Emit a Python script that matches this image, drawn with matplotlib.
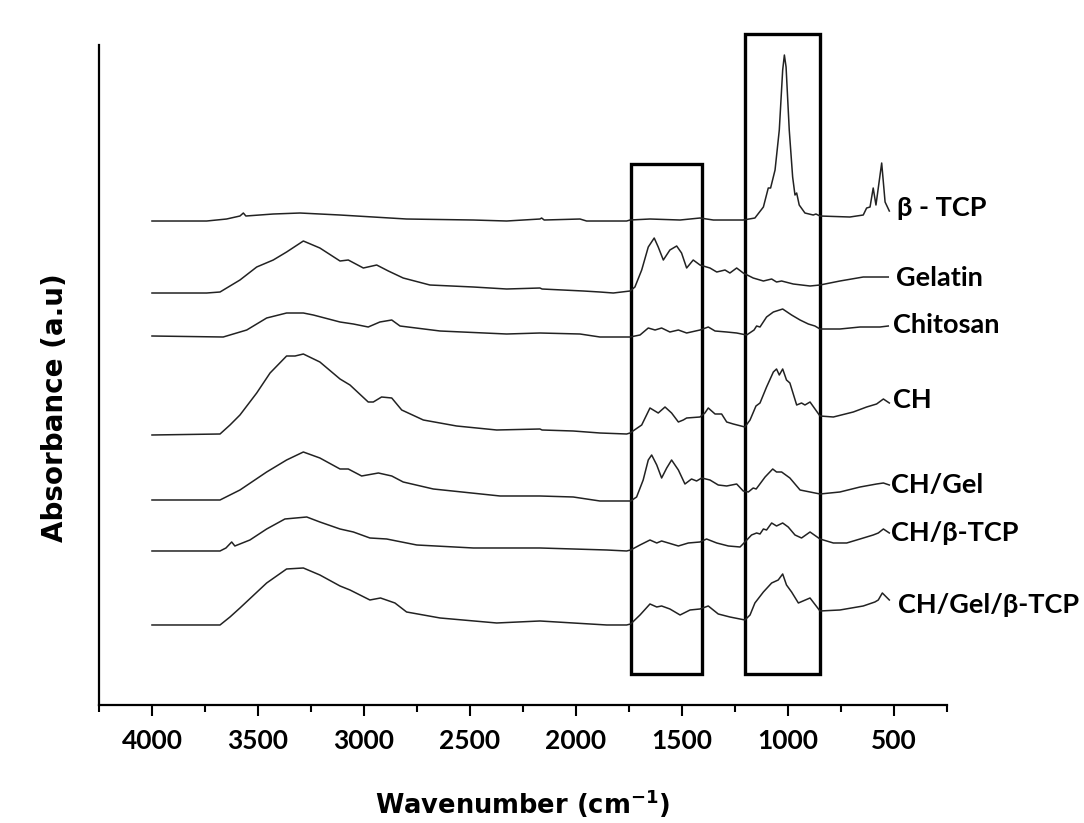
import numpy as np
import matplotlib.pyplot as plt
from matplotlib.patches import Rectangle

# FTIR spectra, stacked (absorbance in arbitrary offset units)
tcp_wn = [4000, 3742, 3648, 3585, 3569, 3557, 3428, 3302, 3113, 2799, 2484, 2327, 2170, 2162, 2150,
          1981, 1950, 1887, 1761, 1745, 1651, 1509, 1415, 1352, 1211, 1156, 1116, 1093, 1082, 1061,
          1041, 1025, 1017, 1009, 994, 978, 967, 959, 947, 920, 881, 868, 849, 708, 645, 629, 613,
          598, 585, 558, 542, 522]
tcp_ab = [484, 484, 486, 489, 492, 489, 491, 492, 490, 486, 485, 484, 486, 487, 485,
          486, 484, 484, 484, 485, 486, 485, 487, 485, 485, 487, 498, 517, 517, 535,
          575, 635, 650, 638, 575, 528, 510, 512, 500, 492, 490, 491, 489, 488, 490, 497, 498,
          517, 500, 542, 503, 494]

gel_wn = [4000, 3742, 3679, 3585, 3506, 3428, 3365, 3286, 3208, 3113, 3074, 3003, 2940, 2885, 2815,
          2689, 2484, 2327, 2170, 2160, 1965, 1887, 1824, 1745, 1722, 1690, 1659, 1631, 1612, 1588,
          1557, 1525, 1502, 1478, 1447, 1415, 1368, 1336, 1297, 1274, 1242, 1211, 1164, 1116, 1077,
          1054, 1030, 975, 896, 849, 755, 645, 527]
gel_ab = [412, 412, 413, 425, 438, 445, 453, 464, 457, 444, 445, 437, 440, 434, 427,
          420, 418, 416, 417, 416, 414, 413, 412, 414, 418, 435, 458, 467, 458, 445,
          455, 459, 452, 437, 445, 440, 437, 433, 435, 432, 437, 432, 427, 424, 426,
          423, 424, 421, 419, 420, 424, 428, 428]

chi_wn = [4000, 3664, 3553, 3459, 3365, 3286, 3239, 3113, 3050, 2980, 2925, 2869, 2830, 2641, 2327,
          2170, 1981, 1887, 1761, 1745, 1698, 1659, 1627, 1596, 1557, 1517, 1478, 1415, 1376, 1344,
          1289, 1242, 1195, 1160, 1148, 1132, 1101, 1069, 1025, 983, 943, 904, 873, 849, 755, 660,
          566, 527]
chi_ab = [369, 368, 375, 387, 392, 392, 390, 383, 381, 378, 383, 385, 379, 374, 371,
          372, 371, 368, 368, 368, 370, 377, 375, 377, 373, 375, 372, 375, 378, 374,
          373, 372, 370, 375, 379, 378, 388, 393, 396, 390, 385, 381, 379, 376, 376, 378,
          378, 379]

ch_wn = [4000, 3679, 3632, 3585, 3506, 3443, 3365, 3325, 3286, 3208, 3113, 3066, 2980, 2956, 2917,
         2869, 2822, 2720, 2563, 2374, 2170, 2160, 2013, 1887, 1761, 1745, 1690, 1651, 1612, 1580,
         1549, 1517, 1494, 1478, 1415, 1392, 1376, 1344, 1313, 1289, 1258, 1203, 1179, 1151, 1132,
         1101, 1069, 1054, 1041, 1025, 1007, 991, 959, 936, 920, 896, 849, 786, 692, 629, 582, 550, 522]
ch_ab = [270, 271, 280, 290, 312, 332, 349, 349, 351, 343, 326, 320, 303, 303, 308,
         307, 295, 285, 279, 275, 276, 275, 274, 272, 271, 272, 280, 297, 292, 298,
         292, 283, 285, 287, 288, 292, 297, 291, 291, 283, 281, 278, 285, 299, 302,
         318, 333, 336, 330, 336, 325, 322, 300, 302, 300, 303, 289, 288, 293, 298, 301, 306, 302]

chgel_wn = [4000, 3679, 3585, 3459, 3365, 3286, 3208, 3113, 3074, 3011, 2932, 2869, 2815, 2673, 2358,
            2170, 2013, 1887, 1761, 1742, 1714, 1683, 1659, 1643, 1619, 1596, 1572, 1549, 1517, 1486,
            1455, 1431, 1407, 1368, 1329, 1289, 1242, 1211, 1187, 1164, 1150, 1108, 1072, 1054, 1030,
            991, 943, 896, 849, 755, 660, 582, 550, 522]
chgel_ab = [205, 205, 215, 233, 245, 253, 247, 236, 236, 229, 232, 229, 223, 216, 209,
            209, 208, 204, 204, 204, 208, 225, 245, 250, 240, 227, 237, 245, 235, 221,
            226, 224, 227, 225, 220, 219, 221, 214, 213, 217, 216, 228, 236, 233, 233,
            227, 215, 213, 211, 213, 218, 221, 222, 220]

chtcp_wn = [4000, 3679, 3651, 3624, 3609, 3538, 3459, 3373, 3270, 3208, 3113, 3050, 2972, 2893, 2846,
            2751, 2484, 2170, 1855, 1761, 1742, 1698, 1651, 1619, 1596, 1564, 1517, 1470, 1415, 1384,
            1336, 1281, 1226, 1203, 1172, 1148, 1132, 1116, 1101, 1077, 1054, 1025, 999, 967, 936,
            896, 849, 786, 723, 660, 598, 574, 550, 522]
chtcp_ab = [154, 154, 157, 163, 159, 165, 176, 186, 188, 183, 176, 173, 167, 166, 164,
            160, 157, 157, 155, 154, 155, 160, 165, 162, 164, 162, 159, 162, 163, 166,
            162, 159, 158, 163, 170, 172, 171, 176, 175, 182, 179, 182, 178, 170, 167,
            173, 166, 162, 162, 166, 170, 172, 176, 172]

all_wn = [4000, 3679, 3632, 3585, 3459, 3365, 3286, 3208, 3113, 3066, 2972, 2922, 2854, 2799, 2641,
          2374, 2170, 2013, 1855, 1761, 1742, 1698, 1651, 1619, 1596, 1557, 1509, 1462, 1415, 1376,
          1329, 1274, 1203, 1179, 1156, 1116, 1077, 1046, 1025, 1007, 983, 951, 896, 849, 755, 645,
          590, 574, 555, 522]
all_ab = [80, 80, 88, 97, 122, 136, 137, 130, 119, 115, 105, 107, 102, 93, 87,
          82, 84, 82, 80, 80, 81, 90, 101, 98, 99, 96, 90, 95, 96, 99,
          91, 88, 85, 90, 102, 113, 122, 125, 131, 120, 113, 102, 107, 94, 95, 99,
          103, 105, 112, 105]

spectra = [(tcp_wn, tcp_ab), (gel_wn, gel_ab), (chi_wn, chi_ab), (ch_wn, ch_ab),
           (chgel_wn, chgel_ab), (chtcp_wn, chtcp_ab), (all_wn, all_ab)]
names = [u"\u03b2 - TCP", "Gelatin", "Chitosan", "CH", "CH/Gel", u"CH/\u03b2-TCP", u"CH/Gel/\u03b2-TCP"]
label_x = [487, 490, 505, 505, 516, 516, 481]
label_y = [497, 427, 380, 305, 220, 172, 100]

# highlighted regions (wavenumber ranges)
box_ranges = [(1742, 1407, 541), (1203, 849, 671)]

fonts = ['Lato', 'DejaVu Sans']

fig = plt.figure(figsize=(10.84, 8.23), dpi=100)
ax = fig.add_axes([0.0913, 0.1434, 0.7823, 0.8019])

for (wn, ab) in spectra:
    ax.plot(wn, ab, color='#222222', lw=1.1)

for name, lx, ly in zip(names, label_x, label_y):
    ax.text(lx, ly, name, ha='left', va='center', fontsize=19.5, fontweight='bold', family=fonts)

for (x0, x1, top) in box_ranges:
    ax.add_patch(Rectangle((x1, 31), x0 - x1, top - 31, fill=False, lw=2.4,
                           edgecolor='black', clip_on=False))

ax.set_xlim(4250, 250)
ax.set_ylim(0, 660)
ax.set_xticks(np.arange(4000, 499, -500))
ax.set_xticks(np.arange(4250, 249, -500), minor=True)
ax.set_yticks([])
for s in ['top', 'right']:
    ax.spines[s].set_visible(False)
for s in ['left', 'bottom']:
    ax.spines[s].set_linewidth(1.6)
ax.tick_params(axis='x', which='major', length=8, width=1.5, pad=9)
ax.tick_params(axis='x', which='minor', length=5, width=1.5)
for t in ax.get_xticklabels():
    t.set_fontsize(19)
    t.set_fontweight('bold')
    t.set_family(fonts)

ax.set_xlabel("Wavenumber (cm$^{\\mathbf{-1}}$)", fontsize=18.5, fontweight='bold', family='DejaVu Sans')
ax.xaxis.set_label_coords(0.5, -0.125)
ax.set_ylabel("Absorbance (a.u)", fontsize=20, fontweight='bold', family='DejaVu Sans')
ax.yaxis.set_label_coords(-0.035, 0.45)

fig.savefig("out.png", dpi=100)
